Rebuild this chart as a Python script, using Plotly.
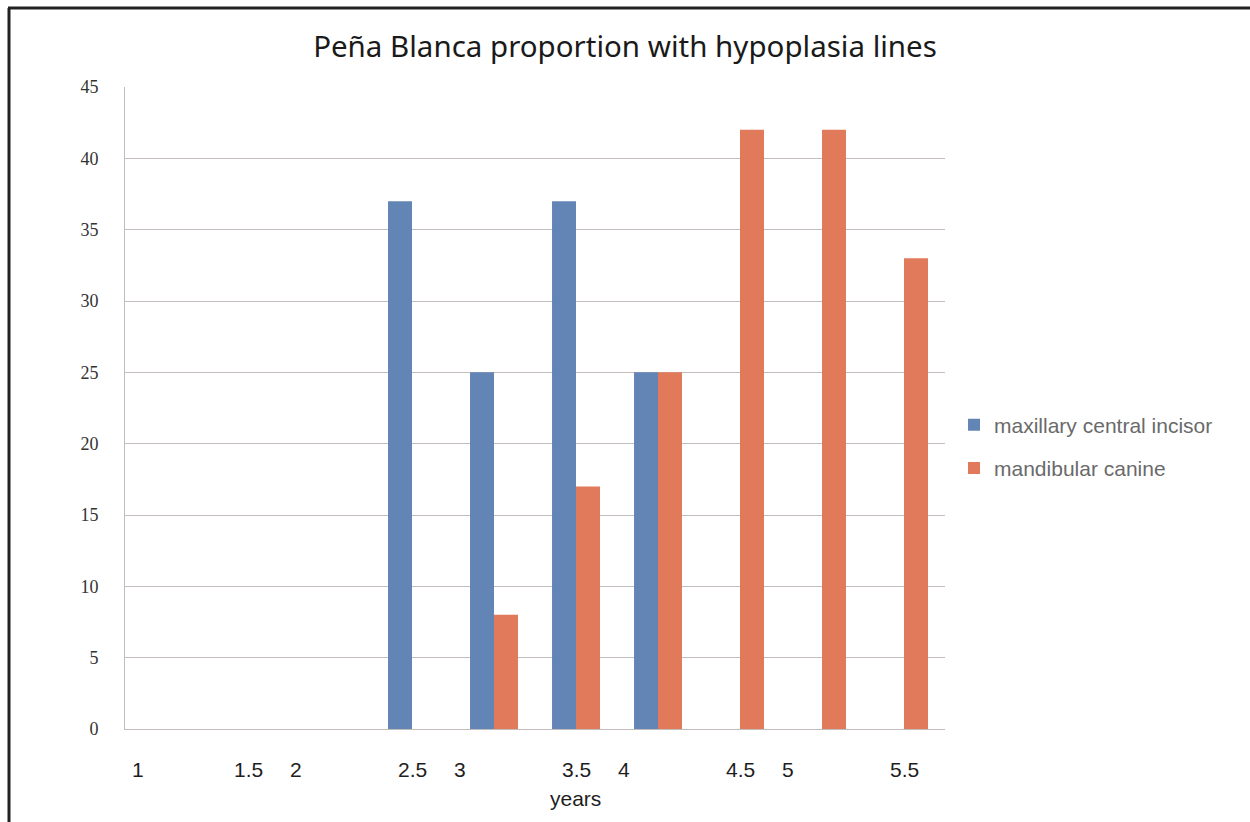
import plotly.graph_objects as go

# ---- data ----
categories = ["1", "1.5", "2", "2.5", "3", "3.5", "4", "4.5", "5", "5.5"]
maxillary_central_incisor = [None, None, None, 37, 25, 37, 25, None, None, None]
mandibular_canine = [None, None, None, None, 8, 17, 25, 42, 42, 33]
series_names = ["maxillary central incisor", "mandibular canine"]
y_ticks = [0, 5, 10, 15, 20, 25, 30, 35, 40, 45]
title_text = "Peña Blanca proportion with hypoplasia lines"
x_title = "years"

BLUE = "#6385b6"
ORANGE = "#e07a5b"
GRID = "#c2bcbc"

fig = go.Figure()
fig.add_trace(go.Bar(x=categories, y=maxillary_central_incisor, name=series_names[0],
                     marker=dict(color=BLUE, line=dict(width=0)), legendgroup="a"))
fig.add_trace(go.Bar(x=categories, y=mandibular_canine, name=series_names[1],
                     marker=dict(color=ORANGE, line=dict(width=0)), legendgroup="b"))

# x tick labels as annotations (whole-number labels sit left of their slot)
annotations = []
for i, c in enumerate(categories):
    shift = -34 if "." not in c else 0
    if i == 0:
        shift = -28
    annotations.append(dict(x=i, xref="x", y=0, yref="paper", yshift=-40, xshift=shift,
                            text=c, showarrow=False, xanchor="center", yanchor="middle",
                            font=dict(family="Liberation Sans, Arial", size=21, color="#1e1e1e")))
annotations.append(dict(x=0.549, xref="paper", y=0, yref="paper", yshift=-69,
                        text=x_title, showarrow=False, xanchor="center", yanchor="middle",
                        font=dict(family="Liberation Sans, Arial", size=21, color="#1e1e1e")))

fig.update_layout(
    width=1250, height=822,
    margin=dict(l=125, r=305, t=87, b=93),
    paper_bgcolor="white", plot_bgcolor="white",
    barmode="group", bargap=0.415, bargroupgap=0,
    title=dict(text=title_text, x=0.5, xref="container", xanchor="center",
               y=1 - 47 / 822, yanchor="middle",
               font=dict(family="Noto Sans", size=29.5, color="#1a1a1a")),
    xaxis=dict(type="category", categoryorder="array", categoryarray=categories,
               showticklabels=False, showgrid=False, showline=True, linecolor=GRID,
               linewidth=1, ticks="", zeroline=False),
    yaxis=dict(range=[0, 45], tickvals=y_ticks, showgrid=True, gridcolor=GRID, gridwidth=1,
               showline=True, linecolor=GRID, linewidth=1, zeroline=False, ticks="",
               ticklabelstandoff=22,
               tickfont=dict(family="Liberation Serif, Times New Roman", size=18, color="#333333")),
    legend=dict(x=1.011, xanchor="left", y=0.44, yanchor="middle", xref="paper", yref="paper",
                font=dict(family="Liberation Sans, Arial", size=21, color="#6a6a6a"),
                tracegroupgap=13, bgcolor="rgba(0,0,0,0)", traceorder="grouped"),
    annotations=annotations,
    shapes=[
        dict(type="line", xref="paper", yref="paper", x0=(8 - 125) / 820, x1=(1250 - 125) / 820,
             y0=(729 - 8) / 642, y1=(729 - 8) / 642, line=dict(color="#222222", width=3)),
        dict(type="line", xref="paper", yref="paper", x0=(9 - 125) / 820, x1=(9 - 125) / 820,
             y0=(729 - 8) / 642, y1=(729 - 830) / 642, line=dict(color="#222222", width=3)),
    ],
)

fig.write_html("out.html")
